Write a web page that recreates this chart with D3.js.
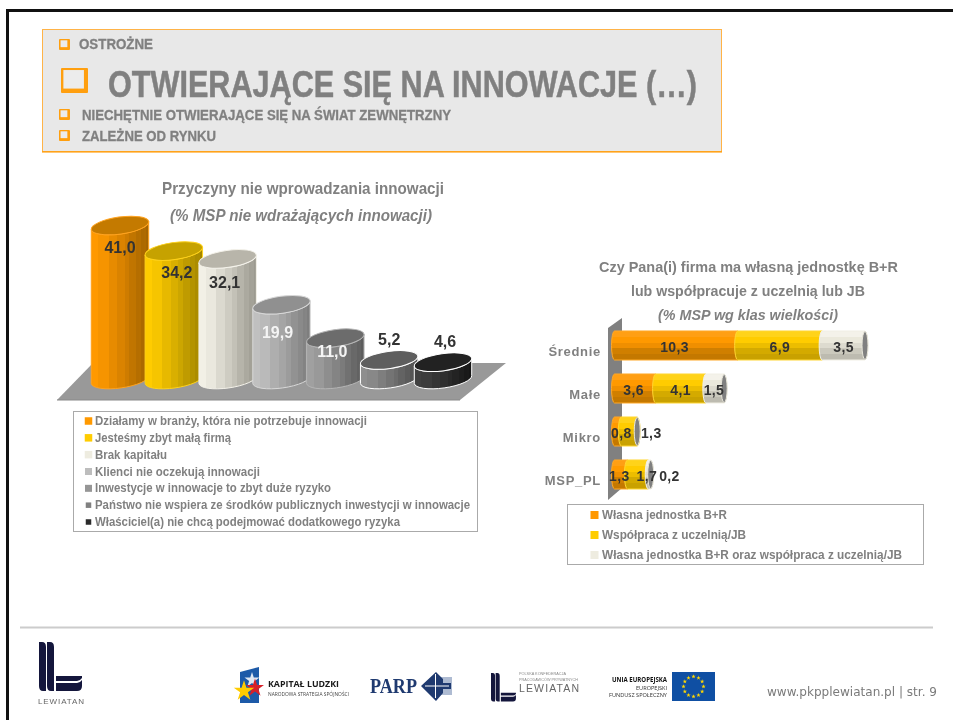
<!DOCTYPE html>
<html lang="pl">
<head>
<meta charset="utf-8">
<script src="https://cdnjs.cloudflare.com/ajax/libs/d3/7.8.5/d3.min.js"></script>
<style>
html,body{margin:0;padding:0;background:#fff}
svg{display:block;font-family:"Liberation Sans",Arial,sans-serif;filter:blur(.35px)}
</style>
</head>
<body>
<div id="chart"></div>
<script>
// ---------- data ----------
const reasonLabels = [
  "Działamy w branży, która nie potrzebuje innowacji",
  "Jesteśmy zbyt małą firmą",
  "Brak kapitału",
  "Klienci nie oczekują innowacji",
  "Inwestycje w innowacje to zbyt duże ryzyko",
  "Państwo nie wspiera ze środków publicznych inwestycji w innowacje",
  "Właściciel(a) nie chcą podejmować dodatkowego ryzyka"
];
const reasonValues = [41.0, 34.2, 32.1, 19.9, 11.0, 5.2, 4.6];
const sizeClasses = ["Średnie", "Małe", "Mikro", "MSP_PL"];
const ownUnit = [10.3, 3.6, 0.8, 1.3];
const cooperation = [6.9, 4.1, 1.3, 1.7];
const ownAndCooperation = [3.5, 1.5, 0, 0.2];
const stackLabels = ["Własna jednostka B+R", "Współpraca z uczelnią/JB", "Własna jednostka B+R oraz współpraca z uczelnią/JB"];
const headerLines = ["OSTROŻNE", "OTWIERAJĄCE SIĘ NA INNOWACJE (…)", "NIECHĘTNIE OTWIERAJĄCE SIĘ NA ŚWIAT ZEWNĘTRZNY", "ZALEŻNE OD RYNKU"];

// ---------- layout / style (not data) ----------
const W = 953, H = 720;
const comma = v => d3.format(".1f")(v).replace(".", ",");
const GREY = "#808080";
const svg = d3.select("#chart").append("svg").attr("width", W).attr("height", H).attr("viewBox", `0 0 ${W} ${H}`);
const defs = svg.append("defs");

function fitText(g, str, x, y, width, size, opts = {}) {
  const fill = opts.fill || GREY;
  return g.append("text").attr("x", x).attr("y", y).text(str)
    .attr("font-size", size).attr("font-weight", opts.weight || "bold")
    .attr("font-style", opts.italic ? "italic" : null)
    .attr("font-family", opts.family || null)
    .attr("fill", fill)
    .attr("stroke", opts.heavy ? fill : null).attr("stroke-width", opts.heavy || null)
    .attr("textLength", width).attr("lengthAdjust", opts.spread ? "spacing" : "spacingAndGlyphs");
}

// ---------- slide frame ----------
svg.append("path").attr("d", `M7.5,${H} V10.5 H${W}`).attr("fill", "none").attr("stroke", "#111").attr("stroke-width", 3);

// ---------- header ----------
const head = svg.append("g");
head.append("rect").attr("x", 42.5).attr("y", 29.5).attr("width", 679).attr("height", 122).attr("fill", "#e8e8e8").attr("stroke", "#ffb347");
head.append("rect").attr("x", 42).attr("y", 151).attr("width", 680).attr("height", 1.6).attr("fill", "#ffa21a");
function bullet(x, y, w, h, t) {
  head.append("rect").attr("x", x).attr("y", y).attr("width", w).attr("height", h).attr("fill", "#ff9f0f").attr("rx", 1);
  head.append("rect").attr("x", x + t * 0.7).attr("y", y + t * 0.6).attr("width", w - t * 1.9).attr("height", h - t * 1.9).attr("fill", "#ececec");
}
bullet(59, 39, 11, 11, 2.2);
bullet(61, 68, 27, 25, 3.4);
bullet(59, 109, 11, 11, 2.2);
bullet(59, 130, 11, 11, 2.2);
fitText(head, headerLines[0], 79, 49, 74, 14.5, { heavy: .3 });
fitText(head, headerLines[1], 108, 97, 589, 37, { heavy: .5 });
fitText(head, headerLines[2], 82, 120, 369, 14.5, { heavy: .3 });
fitText(head, headerLines[3], 82, 141, 134, 14.5, { heavy: .3 });

// ---------- left chart titles ----------
fitText(svg, "Przyczyny nie wprowadzania innowacji", 162, 194, 282, 17);
fitText(svg, "(% MSP nie wdrażających innowacji)", 170, 221, 262, 17, { italic: true });

// ---------- left chart: cylinders ----------
const cylStyle = [
  { l: "#ff9900", r: "#a56500", top: "#c47a00", edge: "#ffa31f", swatch: "#ff9900", lab: "#333" },
  { l: "#ffcc00", r: "#a38600", top: "#c6a200", edge: "#ffd21a", swatch: "#ffcc00", lab: "#333" },
  { l: "#f2f0e6", r: "#9c9a90", top: "#b8b5aa", edge: "#f4f2ea", swatch: "#eeece0", lab: "#333" },
  { l: "#c0c0c0", r: "#7e7e7e", top: "#909090", edge: "#d8d8d8", swatch: "#bdbdbd", lab: "#f4f4f4" },
  { l: "#a0a0a0", r: "#5c5c5c", top: "#6c6c6c", edge: "#b5b5b5", swatch: "#969696", lab: "#f4f4f4" },
  { l: "#8e8e8e", r: "#505050", top: "#5e5e5e", edge: "#ffffff", swatch: "#808080", lab: "#333" },
  { l: "#404040", r: "#161616", top: "#222222", edge: "#ffffff", swatch: "#2a2a2a", lab: "#333" }
];
const labelNudge = [[0, 21], [3, 21], [-3, 23], [-4, 27], [-3, 13], [0, -21], [2, -21]];

const xCyl = d3.scalePoint().domain(d3.range(reasonValues.length)).range([120, 443]);
const yCyl = d3.scaleLinear().domain([0, 41]).range([379.5, 225.5]);
const rx = 29, ry = 8.5, tilt = 8;
const cosT = Math.cos(tilt * Math.PI / 180), sinT = Math.sin(tilt * Math.PI / 180);

// floor
svg.append("polygon").attr("points", "57,400 460,400 506,363 93,363").attr("fill", "#999");
svg.append("line").attr("x1", 57).attr("x2", 460).attr("y1", 400).attr("y2", 400).attr("stroke", "#888");

cylStyle.forEach((s, i) => {
  const g = defs.append("linearGradient").attr("id", "cyl" + i);
  const mix = d3.interpolateRgb(s.l, s.r);
  // stripes get narrower towards the right-hand side, like a faceted 3-D column
  const stops = [0, .12, .3, .45, .58, .66, .72, .78, .83, .87, .91, .95, 1];
  stops.forEach((o, k) => {
    const c = mix(Math.pow(o, 1.1) + (k % 2 && o > .5 ? .06 : 0));
    g.append("stop").attr("offset", o).attr("stop-color", c);
    if (k < stops.length - 1) g.append("stop").attr("offset", stops[k + 1]).attr("stop-color", c);
  });
});

const cylG = svg.append("g").selectAll("g").data(reasonValues).join("g");
cylG.append("path")
  .attr("d", (v, i) => {
    const cx = xCyl(i), t = yCyl(v), b = yCyl(0);
    const lx = cx - rx * cosT, rxp = cx + rx * cosT, dy = rx * sinT;
    return `M${lx},${t + dy} L${lx},${b + dy} A${rx},${ry} ${-tilt} 0 0 ${rxp},${b - dy} L${rxp},${t - dy} A${rx},${ry} ${-tilt} 0 1 ${lx},${t + dy}Z`;
  })
  .attr("fill", (v, i) => `url(#cyl${i})`)
  .attr("stroke", (v, i) => cylStyle[i].edge).attr("stroke-width", 1);
cylG.append("ellipse")
  .attr("cx", (v, i) => xCyl(i)).attr("cy", v => yCyl(v)).attr("rx", rx).attr("ry", ry)
  .attr("transform", (v, i) => `rotate(${-tilt} ${xCyl(i)} ${yCyl(v)})`)
  .attr("fill", (v, i) => cylStyle[i].top)
  .attr("stroke", (v, i) => cylStyle[i].edge).attr("stroke-width", 1);
cylG.append("text")
  .attr("x", (v, i) => xCyl(i) + labelNudge[i][0])
  .attr("y", (v, i) => yCyl(v) + labelNudge[i][1] + 6)
  .attr("text-anchor", "middle").attr("font-size", 16).attr("font-weight", "bold")
  .attr("fill", (v, i) => cylStyle[i].lab).text(comma);

// left legend
const legL = svg.append("g");
legL.append("rect").attr("x", 73.5).attr("y", 411.5).attr("width", 404).attr("height", 120).attr("fill", "#fff").attr("stroke", "#aaa");
const legLY = d3.scalePoint().domain(d3.range(reasonLabels.length)).range([421, 522]);
const legLW = [272, 136, 72, 165, 236, 375, 305];
const swSize = [7.5, 7.5, 7.5, 7, 7, 5.5, 5.5];
reasonLabels.forEach((t, i) => {
  const y = legLY(i);
  legL.append("rect").attr("x", 88.5 - swSize[i] / 2).attr("y", y - swSize[i] / 2).attr("width", swSize[i]).attr("height", swSize[i]).attr("fill", cylStyle[i].swatch);
  fitText(legL, t, 95, y + 4, legLW[i], 12);
});

// ---------- right chart titles ----------
fitText(svg, "Czy Pana(i) firma ma własną jednostkę B+R", 599, 272, 299, 15);
fitText(svg, "lub współpracuje z uczelnią lub JB", 631, 296, 234, 15);
fitText(svg, "(% MSP wg klas wielkości)", 658, 320, 180, 15, { italic: true });

// ---------- right chart: stacked horizontal cylinders ----------
svg.append("polygon").attr("points", "622,318 608,328 608,500 622,488").attr("fill", GREY);

const stackKeys = ["own", "coop", "both"];
const stackRows = sizeClasses.map((c, i) => ({ c, own: ownUnit[i], coop: cooperation[i], both: ownAndCooperation[i] }));
const stacked = d3.stack().keys(stackKeys)(stackRows);
const xBar = d3.scaleLinear().domain([0, 20.7]).range([611.5, 865]);
const yBar = d3.scaleBand().domain(sizeClasses).range([324, 496]).paddingInner(0.325).paddingOuter(0.1625);
const barStyle = [
  { stops: ["#ff9f14", "#ff9900", "#f08f00", "#d07f00", "#c47800"], edge: "#ffa826", swatch: "#ff9900" },
  { stops: ["#ffd31a", "#ffcc00", "#ecbd00", "#d4aa00", "#c9a100"], edge: "#ffd633", swatch: "#ffcc00" },
  { stops: ["#f4f2ea", "#ebe9dc", "#dddbcf", "#cbc9bd", "#bdbbb0"], edge: "#f1efe5", swatch: "#eeece0" }
];
barStyle.forEach((s, i) => {
  const g = defs.append("linearGradient").attr("id", "bar" + i).attr("x1", 0).attr("x2", 0).attr("y1", 0).attr("y2", 1);
  s.stops.forEach((c, k) => {
    g.append("stop").attr("offset", k / s.stops.length).attr("stop-color", c);
    g.append("stop").attr("offset", (k + 1) / s.stops.length).attr("stop-color", c);
  });
});
const capR = 3;
stacked.forEach((layer, li) => {
  const g = svg.append("g");
  g.selectAll("path").data(layer).join("path")
    .filter(d => d[1] > d[0])
    .attr("d", d => {
      const x0 = xBar(d[0]) + (li === 0 ? capR : 0), x1 = xBar(d[1]), y = yBar(d.data.c), h = yBar.bandwidth();
      return `M${x0},${y} L${x1},${y} A${capR},${h / 2} 0 0 1 ${x1},${y + h} L${x0},${y + h} A${capR},${h / 2} 0 0 1 ${x0},${y}Z`;
    })
    .attr("fill", `url(#bar${li})`)
    .attr("stroke", barStyle[li].edge).attr("stroke-width", 1);
});
// grey end caps, one per bar
svg.append("g").selectAll("ellipse").data(stackRows).join("ellipse")
  .attr("cx", d => xBar(d.own + d.coop + d.both))
  .attr("cy", d => yBar(d.c) + yBar.bandwidth() / 2)
  .attr("rx", capR).attr("ry", yBar.bandwidth() / 2 - 0.5)
  .attr("fill", GREY).attr("stroke", "#e8e6da").attr("stroke-width", 1);

// category axis
const axisG = svg.append("g").attr("transform", "translate(601,6)")
  .call(d3.axisLeft(yBar).tickSize(0).tickPadding(0));
axisG.select(".domain").remove();
axisG.selectAll("text").attr("font-size", 13).attr("font-weight", "bold")
  .attr("font-family", "Liberation Sans").attr("fill", GREY).attr("letter-spacing", 0.7);

// value labels: the reference moves some labels off their segment centres
const barLabelShift = {
  "Średnie": [0, 0, 0], "Małe": [0, 0, -1], "Mikro": [5, 22, 0], "MSP_PL": [0, 9, 20]
};
stacked.forEach((layer, li) => {
  svg.append("g").selectAll("text").data(layer.filter(d => d[1] > d[0])).join("text")
    .attr("x", d => (xBar(d[0]) + xBar(d[1])) / 2 + barLabelShift[d.data.c][li])
    .attr("y", d => yBar(d.data.c) + yBar.bandwidth() / 2 + 6.5)
    .attr("text-anchor", "middle").attr("font-size", 14).attr("font-weight", "bold")
    .attr("letter-spacing", 0.4).attr("fill", "#333").text(d => comma(d[1] - d[0]));
});

// right legend
const legR = svg.append("g");
legR.append("rect").attr("x", 567.5).attr("y", 504.5).attr("width", 356).attr("height", 60).attr("fill", "#fff").attr("stroke", "#aaa");
const legRW = [125, 144, 300];
stackLabels.forEach((t, i) => {
  const y = [515, 535, 555][i];
  legR.append("rect").attr("x", 590.5).attr("y", y - 4).attr("width", 8).attr("height", 8).attr("fill", barStyle[i].swatch);
  fitText(legR, t, 602, y + 4, legRW[i], 12);
});

// ---------- footer ----------
const foot = svg.append("g");
foot.append("line").attr("x1", 20).attr("x2", 933).attr("y1", 627.5).attr("y2", 627.5).attr("stroke", "#ccc").attr("stroke-width", 2);
const NAVY = "#14163c";
function lewiatanMark(g, x, y, k) {
  const m = g.append("g").attr("transform", `translate(${x},${y}) scale(${k})`).attr("fill", NAVY);
  m.append("path").attr("d", "M0,0 H3 Q7,0 7,5 V49 H4 Q0,49 0,44Z");
  m.append("path").attr("d", "M8,0 H11 Q15,0 15,5 V49 H12 Q8,49 8,44Z");
  m.append("path").attr("d", "M17,34 H43 L43,36 Q41,39 38,39 H17Z");
  m.append("path").attr("d", "M17,41 H38 Q41,41 43,38 V44 Q43,49 38,49 H17Z");
}
lewiatanMark(foot, 39, 642, 1);
fitText(foot, "LEWIATAN", 38, 704, 46, 8, { weight: "normal", fill: "#666", spread: true });

// Kapitał Ludzki mark
foot.append("polygon").attr("points", "240,672 259,667 259,703 240,703").attr("fill", "#1d5aa8");
const star = d3.symbol().type(d3.symbolStar);
[[252, 680, 70, "#dfe7f2"], [255, 688, 100, "#d6202a"], [244, 691, 130, "#ffcc00"]].forEach(s => {
  foot.append("path").attr("d", star.size(s[2])()).attr("transform", `translate(${s[0]},${s[1]})`).attr("fill", s[3]);
});
fitText(foot, "KAPITAŁ LUDZKI", 268, 687, 71, 9, { family: "Open Sans", fill: "#1a1a1a" });
fitText(foot, "NARODOWA STRATEGIA SPÓJNOŚCI", 268, 696, 81, 4.5, { family: "Open Sans", weight: "normal", fill: "#444" });

// PARP mark
fitText(foot, "PARP", 370, 693, 47, 20, { family: "Liberation Serif", fill: "#1f3a70" });
foot.append("rect").attr("x", 435).attr("y", 677).attr("width", 17).attr("height", 18).attr("fill", "#aebbd2");
foot.append("polygon").attr("points", "436,672 443,679 443,683 451,683 451,689 443,689 443,693 436,701 421,686").attr("fill", "#1f3a70");
foot.append("path").attr("d", "M435.5,674 V698 M425,686 H449").attr("stroke", "#fff").attr("stroke-width", 1);

// Lewiatan confederation mark
lewiatanMark(foot, 491, 673, 0.58);
fitText(foot, "POLSKA KONFEDERACJA", 519, 675, 47, 3.4, { weight: "normal", fill: "#888" });
fitText(foot, "PRACODAWCÓW PRYWATNYCH", 519, 681, 59, 3.4, { weight: "normal", fill: "#888" });
fitText(foot, "LEWIATAN", 519, 692, 60, 10.5, { weight: "normal", fill: "#666", spread: true });

// EU mark
const euT = [["UNIA EUROPEJSKA", 7, "bold", "#111", 682, 55], ["EUROPEJSKI", 5.5, "normal", "#333", 690, 31], ["FUNDUSZ SPOŁECZNY", 5.5, "normal", "#333", 697, 58]];
euT.forEach(t => {
  fitText(foot, t[0], 667 - t[5], t[4], t[5], t[1], { family: "Open Sans", weight: t[2], fill: t[3] });
});
foot.append("rect").attr("x", 672).attr("y", 672).attr("width", 43).attr("height", 29).attr("fill", "#0f4fa3");
d3.range(12).forEach(i => {
  const a = i * Math.PI / 6;
  foot.append("path").attr("d", star.size(6)())
    .attr("transform", `translate(${693.5 + 10 * Math.sin(a)},${686.5 - 10 * Math.cos(a)})`).attr("fill", "#ffd800");
});

fitText(foot, "www.pkpplewiatan.pl | str. 9", 767, 696, 170, 13, { family: "DejaVu Sans", weight: "normal", fill: "#7a7a7a" });
</script>
</body>
</html>
